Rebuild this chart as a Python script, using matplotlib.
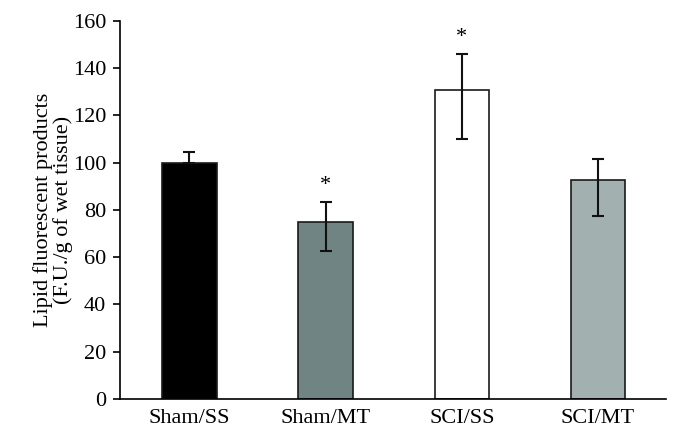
import matplotlib
matplotlib.use("Agg")
import matplotlib.pyplot as plt
import numpy as np

categories = ["Sham/SS", "Sham/MT", "SCI/SS", "SCI/MT"]
values = [100.0, 74.8, 130.5, 92.7]
err_low = [0.0, 12.1, 20.6, 15.2]
err_high = [4.5, 8.6, 15.4, 8.7]
significant = [False, True, True, False]
colors = ["#000000", "#6f8483", "#ffffff", "#a2b1b0"]
yticks = [0, 20, 40, 60, 80, 100, 120, 140, 160]

plt.rcParams['font.family'] = ['Liberation Serif', 'DejaVu Serif']

fig = plt.figure(figsize=(6.8, 4.38), dpi=100)
ax = fig.add_axes([120/680, 1-399/438, (666-120)/680, (399-20.7)/438])

x = np.arange(len(categories))
ax.bar(x, values, width=0.40, color=colors, edgecolor="#1a1a1a", linewidth=1.2, zorder=2)
ax.errorbar(x, values, yerr=[err_low, err_high], fmt="none", ecolor="#111111",
            elinewidth=1.5, capsize=4.2, capthick=1.5, zorder=3)
for xi, v, eh, s in zip(x, values, err_high, significant):
    if s:
        ax.text(xi, v + eh + 3.0, "*", ha="center", va="bottom", fontsize=16)

ax.set_xlim(-0.51, 3.5)
ax.set_ylim(0, 160)
ax.set_yticks(yticks)
ax.set_xticks(x)
ax.set_xticklabels(categories, fontsize=16)
ax.tick_params(axis="x", length=0, pad=7)
ax.tick_params(axis="y", labelsize=16, length=5, width=1.2, direction="out", pad=5)
for sp in ["top", "right"]:
    ax.spines[sp].set_visible(False)
for sp in ["left", "bottom"]:
    ax.spines[sp].set_linewidth(1.2)
ax.set_ylabel("Lipid fluorescent products\n(F.U./g of wet tissue)", fontsize=16,
              linespacing=1.0, labelpad=0)

fig.savefig("out.png", dpi=100)
